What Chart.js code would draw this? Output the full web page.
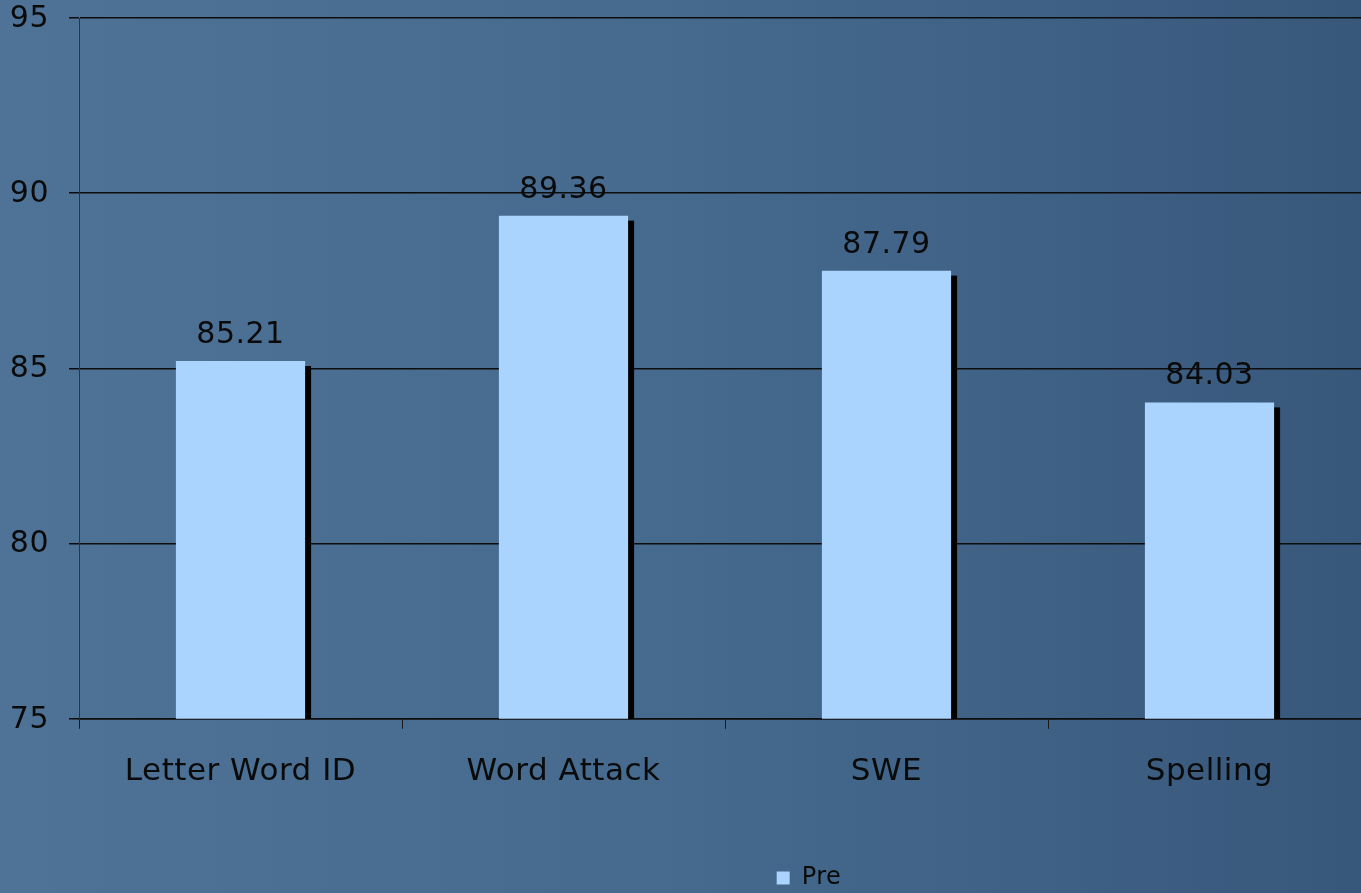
<!DOCTYPE html>
<html>
<head>
<meta charset="utf-8">
<script src="https://cdn.jsdelivr.net/npm/chart.js@4.4.1/dist/chart.umd.min.js"></script>
<style>
  html, body { margin: 0; padding: 0; overflow: hidden; width: 1361px; height: 893px; }
  body { background: linear-gradient(to right, #4f7396 0%, #456a8e 50%, #38587b 100%); }
  #wrap { position: absolute; left: 0; top: 0; width: 1618px; height: 893px; }
</style>
</head>
<body>
<div id="wrap"><canvas id="c"></canvas></div>
<script>
const categories = ['Letter Word ID', 'Word Attack', 'SWE', 'Spelling'];
const preScores = [85.21, 89.36, 87.79, 84.03];
const yTicks = [75, 80, 85, 90, 95];
const seriesName = 'Pre';

const FONT = '"DejaVu Sans", Verdana, sans-serif';

// Slightly wider text, closer to Verdana proportions
const textSpacing = {
  id: 'textSpacing',
  beforeLayout(chart) { chart.ctx.letterSpacing = '0.5px'; },
  beforeDraw(chart) { chart.ctx.letterSpacing = '0.5px'; }
};

// Hard drop shadow behind each bar, clipped to the plot area
const barShadow = {
  id: 'barShadow',
  beforeDatasetsDraw(chart) {
    const a = chart.chartArea;
    const ctx = chart.ctx;
    ctx.save();
    ctx.beginPath();
    ctx.rect(a.left, a.top - 20, a.right - a.left, a.bottom - a.top + 20);
    ctx.clip();
    ctx.fillStyle = '#000';
    chart.getDatasetMeta(0).data.forEach(bar => {
      const w = bar.width;
      ctx.fillRect(bar.x - w / 2 + 6, bar.y + 5, w, bar.base - bar.y);
    });
    ctx.restore();
  }
};

// Value printed above each bar
const valueLabels = {
  id: 'valueLabels',
  afterDatasetsDraw(chart) {
    const ctx = chart.ctx;
    ctx.save();
    ctx.font = '30px ' + FONT;
    ctx.fillStyle = '#0a0a0a';
    ctx.textAlign = 'center';
    ctx.textBaseline = 'alphabetic';
    const ds = chart.data.datasets[0];
    chart.getDatasetMeta(0).data.forEach((bar, i) => {
      ctx.fillText(ds.data[i].toFixed(2), bar.x, bar.y - 18);
    });
    ctx.restore();
  }
};

new Chart(document.getElementById('c'), {
  type: 'bar',
  data: {
    labels: categories,
    datasets: [{
      label: seriesName,
      data: preScores,
      backgroundColor: '#aad4fd',
      borderWidth: 0,
      barPercentage: 0.4,
      categoryPercentage: 1.0,
      xAxisID: 'x',
      yAxisID: 'y'
    }]
  },
  options: {
    responsive: true,
    maintainAspectRatio: false,
    animation: false,
    layout: { padding: { left: 0, right: 0, top: 0, bottom: -7 } },
    plugins: {
      legend: {
        position: 'bottom',
        labels: {
          color: '#0a0a0a',
          font: { family: FONT, size: 24 },
          boxWidth: 13,
          boxHeight: 13,
          padding: 2
        }
      },
      tooltip: { enabled: false }
    },
    scales: {
      x: {
        offset: true,
        weight: 0,
        grid: {
          display: true,
          offset: true,
          drawOnChartArea: false,
          drawTicks: true,
          tickLength: 10,
          color: '#1a1a1a'
        },
        border: { display: true, color: '#0d0d0d', width: 1.5 },
        ticks: {
          color: '#0a0a0a',
          font: { family: FONT, size: 31 },
          padding: 25,
          maxRotation: 0
        }
      },
      // empty band between the category labels and the legend
      xGap: {
        axis: 'x',
        type: 'linear',
        position: 'bottom',
        weight: 1,
        grid: { display: false },
        border: { display: false },
        ticks: { display: false },
        afterFit(axis) { axis.height = 48; }
      },
      y: {
        min: 75,
        max: 95,
        afterBuildTicks(axis) { axis.ticks = yTicks.map(v => ({ value: v })); },
        afterFit(axis) {
          axis.width = 79;
          axis.paddingTop = 18;
          axis.paddingBottom = 0;
        },
        grid: {
          color: '#0d0d0d',
          lineWidth: 1.5,
          tickLength: 10,
          drawTicks: true
        },
        border: { display: true, color: '#333', width: 1 },
        ticks: {
          color: '#0a0a0a',
          font: { family: FONT, size: 30 },
          padding: 20,
          labelOffset: 1
        }
      },
      // empty band on the right of the plot
      yGap: {
        axis: 'y',
        type: 'linear',
        position: 'right',
        grid: { display: false },
        border: { display: false },
        ticks: { display: false },
        afterFit(axis) { axis.width = 247; }
      }
    }
  },
  plugins: [textSpacing, barShadow, valueLabels]
});
</script>
</body>
</html>
